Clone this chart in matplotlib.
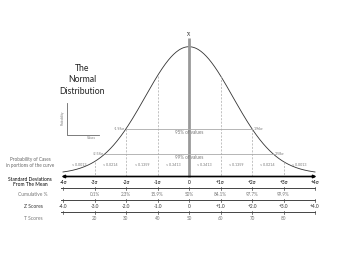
import numpy as np
import matplotlib.pyplot as plt

plt.rcParams['font.family'] = ['Lato', 'DejaVu Sans']

# data
sd_pos = [-4, -3, -2, -1, 0, 1, 2, 3, 4]
sd_labels = ["-4σ", "-3σ", "-2σ", "-1σ", "0", "+1σ", "+2σ", "+3σ", "+4σ"]
cum_pos = [-3, -2, -1, 0, 1, 2, 3]
cum_labels = ["0.1%", "2.3%", "15.9%", "50%", "84.1%", "97.7%", "99.9%"]
z_labels = ["-4.0", "-3.0", "-2.0", "-1.0", "0", "+1.0", "+2.0", "+3.0", "+4.0"]
t_pos = [-3, -2, -1, 0, 1, 2, 3]
t_labels = ["20", "30", "40", "50", "60", "70", "80"]
prob_pos = [-3.5, -2.5, -1.5, -0.5, 0.5, 1.5, 2.5, 3.5]
prob_vals = [0.0013, 0.0214, 0.1359, 0.3413, 0.3413, 0.1359, 0.0214, 0.0013]
ci_z = [1.96, 2.58]
ci_names = ["95% of values", "99% of values"]
dash_pos = [-3, -2, -1, 1, 2, 3]

# curve drawn a bit wider than the sigma grid, like the original artwork
spread = 1.39
base_y, peak_h = 174, 127.3


def curve_y(z):
    return base_y - peak_h * np.exp(-np.asarray(z) ** 2 / (2 * spread ** 2))


fig = plt.figure(figsize=(3.5, 2.63), dpi=100)
ax = fig.add_axes([0, 0, 1, 1])
ax.set_xlim(-6.0, 5.111)
ax.set_ylim(263, 0)
ax.axis("off")

dark = "#333333"
mid = "#777777"

# the curve
zs = np.linspace(-4, 4, 400)
ax.plot(zs, curve_y(zs), color=dark, lw=0.6)

# mean line
ax.plot([0, 0], [38, 176.5], color="#999999", lw=2.0, solid_capstyle="butt")
ax.text(0, 34, "X\u0304", ha="center", va="center", fontsize=3.6, color=dark)

# dashed sigma lines
for p in dash_pos:
    ax.plot([p, p], [curve_y(p), 176], color="#aaaaaa", lw=0.5, ls=(0, (3, 2)))

# confidence lines
for z, y, name in zip(ci_z, [129, 153.7], ci_names):
    zz = spread * np.sqrt(2 * np.log(peak_h / (base_y - y)))
    ax.plot([-zz, zz], [y, y], color="#aaaaaa", lw=0.6)
    ax.text(-zz - 0.05, y, "-%.2fσ" % z, ha="right", va="center", fontsize=2.7, color=mid)
    ax.text(zz + 0.05, y, "%.2fσ" % z, ha="left", va="center", fontsize=2.7, color=mid)
    ax.text(0, y + 3.7, name, ha="center", va="center", fontsize=3.3, color=mid)

# probability labels
for p, v in zip(prob_pos, prob_vals):
    ax.text(p, 165.3, "≈ %.4f" % v, ha="center", va="center", fontsize=2.6, color=mid)
ax.text(-5.05, 159.3, "Probability of Cases", ha="center", va="center", fontsize=3.3, color="#666666")
ax.text(-5.05, 165.3, "in portions of the curve", ha="center", va="center", fontsize=3.3, color="#666666")

# main axis with arrows
ax.annotate("", xy=(-4.05, 176.5), xytext=(4.05, 176.5),
            arrowprops=dict(arrowstyle="<|-|>", color="black", lw=1.2, mutation_scale=4, shrinkA=0, shrinkB=0))
for p, lab in zip(sd_pos, sd_labels):
    ax.text(p, 182.7, lab, ha="center", va="center", fontsize=3.4, color="black")
ax.text(-5.05, 179.2, "Standard Deviations", ha="center", va="center", fontsize=3.5, color="black")
ax.text(-5.05, 184.8, "From The Mean", ha="center", va="center", fontsize=3.5, color="black")

# lower scales
for y in [188.3, 200.3, 212.3]:
    ax.plot([-4.05, 4.0], [y, y], color="#444444", lw=0.7)
    ax.plot([4.0, 4.0], [y - 1.2, y + 1.2], color="#444444", lw=0.5)
    for p in sd_pos[:-1]:
        ax.plot([p, p], [y - 1.5, y + 1.5], color="#444444", lw=0.5)

ax.text(-4.95, 194.3, "Cumulative %", ha="center", va="center", fontsize=3.5, color=mid)
for p, lab in zip(cum_pos, cum_labels):
    ax.text(p, 194.3, lab, ha="center", va="center", fontsize=3.3, color=mid)

ax.text(-4.95, 206.7, "Z Scores", ha="center", va="center", fontsize=3.6, color=dark)
for p, lab in zip(sd_pos, z_labels):
    ax.text(p, 206.7, lab, ha="center", va="center", fontsize=3.4, color=dark)

ax.text(-4.95, 218.7, "T Scores", ha="center", va="center", fontsize=3.5, color=mid)
for p, lab in zip(t_pos, t_labels):
    ax.text(p, 218.7, lab, ha="center", va="center", fontsize=3.3, color=mid)

# title
ax.text(-3.4, 80, "The\nNormal\nDistribution", ha="center", va="center",
        fontsize=6.2, color="#222222", linespacing=1.3)

# little probability / values icon
ax.plot([-3.88, -3.88, -2.87], [103, 135, 135], color="#666666", lw=0.6)
ax.text(-4.0, 118, "Probability", rotation=90, ha="center", va="center", fontsize=2.2, color=mid)
ax.text(-3.1, 138, "Values", ha="center", va="center", fontsize=2.2, color=mid)

fig.savefig("out.png", dpi=100, facecolor="white")
